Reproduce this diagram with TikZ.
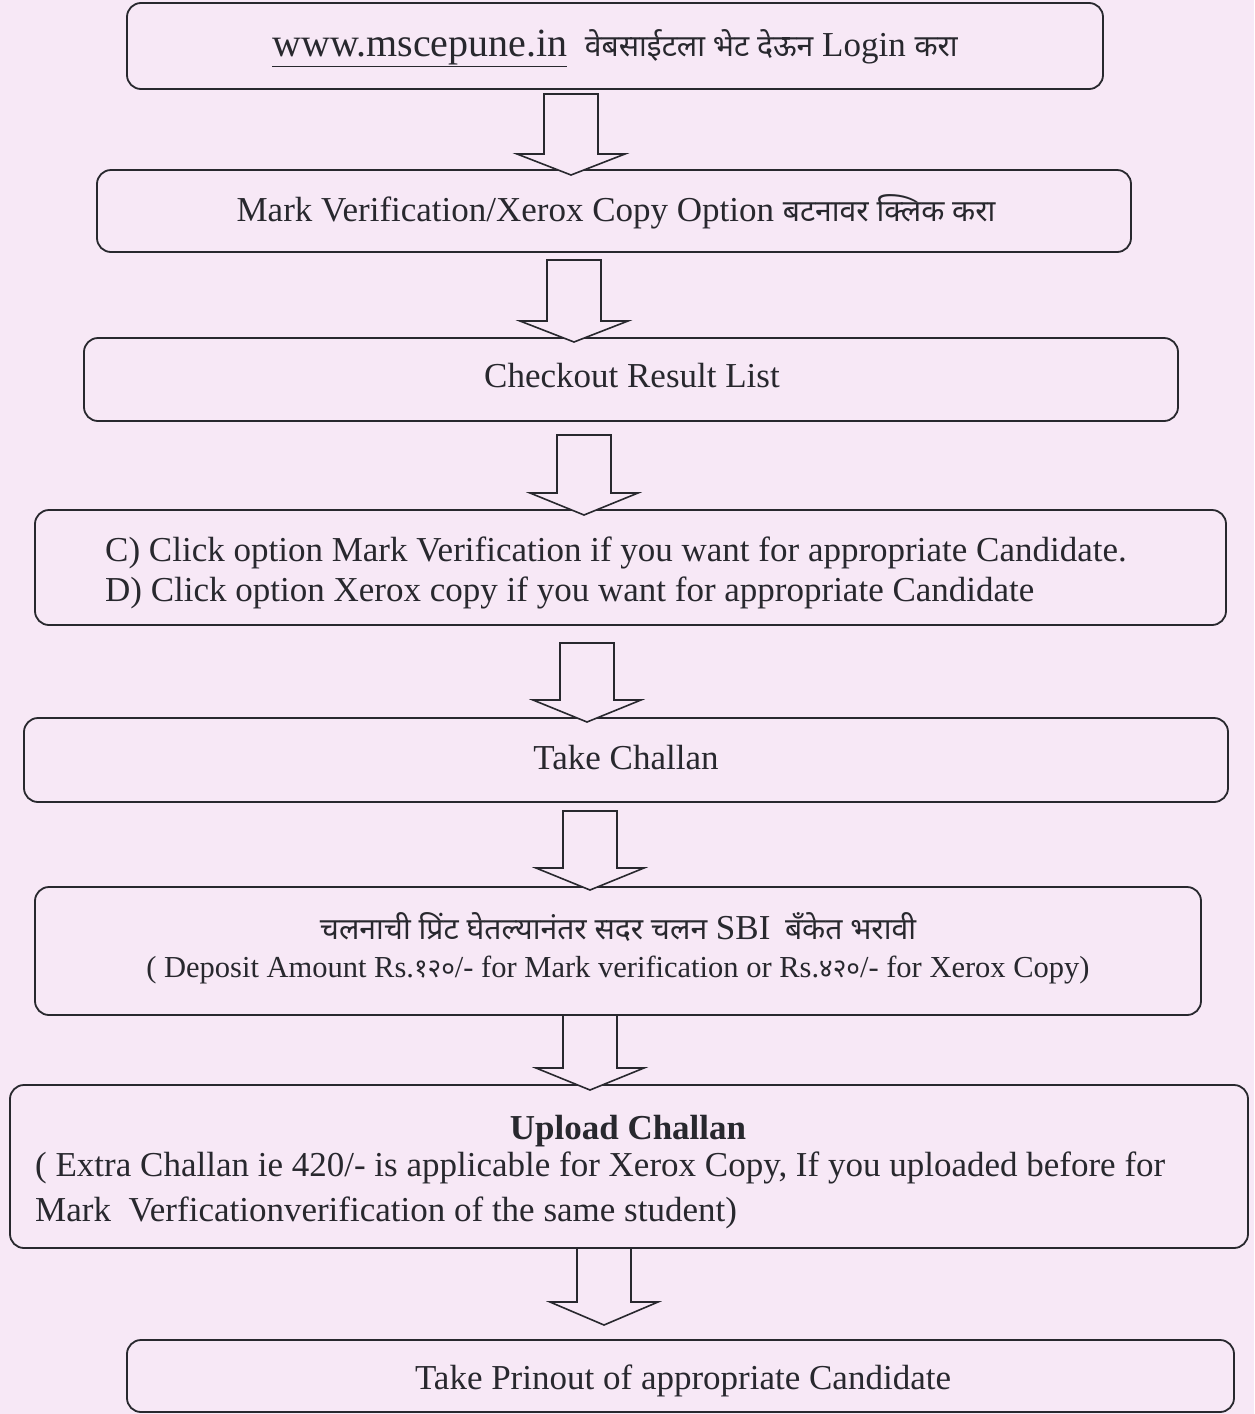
\documentclass[tikz,border=0pt]{standalone}
\usepackage{fontspec}
\setmainfont{Liberation Serif}
\newfontfamily\deva[Script=Devanagari,Scale=0.86]{Noto Sans}
\definecolor{paper}{RGB}{247,232,246}
\definecolor{ink}{RGB}{40,40,46}
\tikzset{
  box/.style={draw=ink,line width=1.8pt,rounded corners=14pt,inner sep=0pt},
  txt/.style={text=ink,inner sep=0pt,anchor=base},
  blockarrow/.style={draw=ink,line width=1.6pt,fill=paper,line join=miter}
}
% x of the shaft middle, top of the shaft, y where the head starts, tip
\newcommand{\downblock}[4]{%
  \draw[blockarrow] (#1-27,#2) -- (#1+27,#2) -- (#1+27,#3) -- (#1+54,#3)
    -- (#1,#4) -- (#1-54,#3) -- (#1-27,#3) -- cycle;}
\begin{document}
\begin{tikzpicture}[x=1pt,y=-1pt,font=\fontsize{35}{42}\selectfont,line join=round,line cap=round]
	\fill[paper] (0,0) rectangle (1254,1414);
	\useasboundingbox (0,0) rectangle (1254,1414);
	\node[box,minimum width=976pt,minimum height=86pt] (login) at (615,46) {};
	\node[box,minimum width=1034pt,minimum height=82pt] (option) at (614,211) {};
	\node[box,minimum width=1094pt,minimum height=83pt] (result) at (631,379.5) {};
	\node[box,minimum width=1191pt,minimum height=115pt] (click) at (630.5,567.5) {};
	\node[box,minimum width=1204pt,minimum height=84pt] (challan) at (626,760) {};
	\node[box,minimum width=1166pt,minimum height=128pt] (deposit) at (618,951) {};
	\node[box,minimum width=1238pt,minimum height=163pt] (upload) at (629,1166.5) {};
	\node[box,minimum width=1107pt,minimum height=72pt] (printout) at (680.5,1376) {};
	\node[txt] (logintext) at (615,56) {{\fontsize{40}{46}\selectfont\underline{www.mscepune.in}}\ \ {\deva वेबसाईटला भेट देऊन} Login {\deva करा}};
	\node[txt] (optiontext) at (616,221) {Mark Verification/Xerox Copy Option {\deva बटनावर क्लिक करा}};
	\node[txt] (resulttext) at (632,387) {Checkout Result List};
	\node[txt,anchor=base west] (clickc) at (105,561) {C) Click option Mark Verification if you want for appropriate Candidate.};
	\node[txt,anchor=base west] (clickd) at (105,601) {D) Click option Xerox copy if you want for appropriate Candidate};
	\node[txt] (challantext) at (626,769) {Take Challan};
	\node[txt] (deposittop) at (618,939) {{\deva चलनाची प्रिंट घेतल्यानंतर सदर चलन} SBI \,{\deva बँकेत भरावी}};
	\node[txt,font=\fontsize{30.5}{36}\selectfont] (depositamt) at (618,977) {( Deposit Amount Rs.{\deva १२०}/- for Mark verification or Rs.{\deva ४२०}/- for Xerox Copy)};
	\node[txt,font=\fontsize{35}{42}\selectfont\bfseries] (uploadtitle) at (628,1139) {Upload Challan};
	\node[txt,anchor=base west] (uploadnote) at (35,1176) {( Extra Challan ie 420/- is applicable for Xerox Copy, If you uploaded before for};
	\node[txt,anchor=base west] (uploadnotetwo) at (35,1221) {Mark\ \ Verficationverification of the same student)};
	\node[txt] (printouttext) at (683,1389) {Take Prinout of appropriate Candidate};
	\downblock{571}{94}{154}{175}
	\downblock{574}{260}{321}{342}
	\downblock{584}{435}{493}{515}
	\downblock{587}{643}{700}{722}
	\downblock{590}{811}{868}{890}
	\downblock{590}{1015}{1068}{1090}
	\downblock{604}{1248}{1302}{1325}
\end{tikzpicture}
\end{document}
